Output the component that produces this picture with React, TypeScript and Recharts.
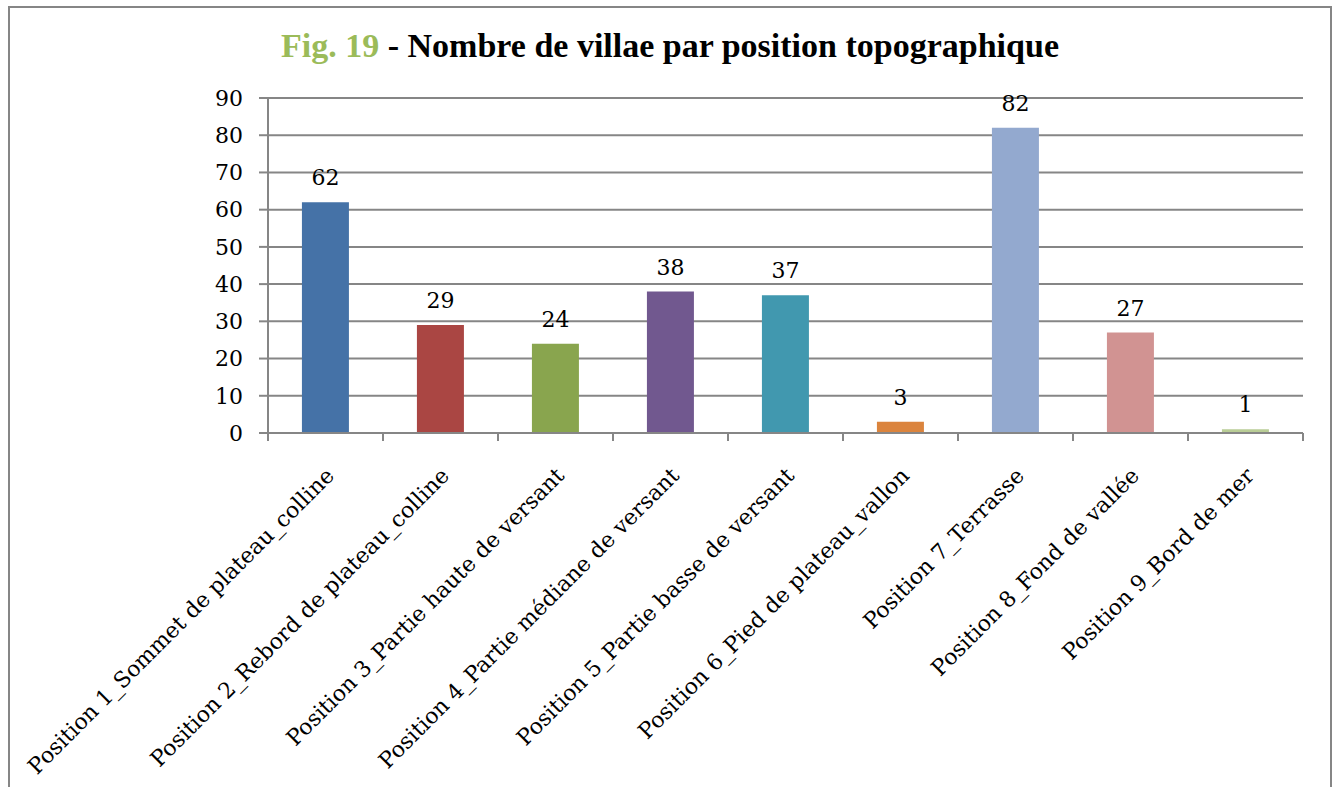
import { BarChart, Bar, XAxis, YAxis, CartesianGrid, Cell, LabelList } from 'recharts'

const positions = [
  'Position 1_Sommet de plateau_colline',
  'Position 2_Rebord de plateau_colline',
  'Position 3_Partie haute de versant',
  'Position 4_Partie médiane de versant',
  'Position 5_Partie basse de versant',
  'Position 6_Pied de plateau_vallon',
  'Position 7_Terrasse',
  'Position 8_Fond de vallée',
  'Position 9_Bord de mer',
]
const villaeCounts = [62, 29, 24, 38, 37, 3, 82, 27, 1]
const barColors = ['#4572A7', '#AA4643', '#89A54E', '#71588F', '#4198AF', '#DB843D', '#93A9CF', '#D19392', '#B9CD96']
const yTicks = [0, 10, 20, 30, 40, 50, 60, 70, 80, 90]

const data = positions.map((name, i) => ({ name, count: villaeCounts[i] }))

const FONT = "'DejaVu Serif', 'Liberation Serif', serif"
const TITLE_FONT = "'Liberation Serif', serif"
const GRID = '#868686'

function CategoryTick(props: any) {
  const { x, y, payload, index } = props
  const half = payload.offset ?? 0
  const last = index === positions.length - 1
  const tx = x + 10
  const ty = y + 36
  return (
    <g>
      <line x1={x - half} y1={y - 8} x2={x - half} y2={y} stroke={GRID} strokeWidth={2} />
      {last && <line x1={x + half} y1={y - 8} x2={x + half} y2={y} stroke={GRID} strokeWidth={2} />}
      <text
        x={tx}
        y={ty}
        textAnchor="end"
        transform={`rotate(-45, ${tx}, ${ty})`}
        fontFamily={FONT}
        fontSize={22}
        fill="#000"
      >
        {payload.value}
      </text>
    </g>
  )
}

export default function App() {
  return (
    <div style={{ position: 'fixed', left: 0, top: 0, width: 1338, height: 787, overflow: 'hidden', background: '#fff' }}>
      <div style={{
        position: 'absolute', left: 8, top: 6, width: 1320, height: 800,
        border: `2px solid ${GRID}`,
      }} />
      <svg width={1338} height={80} style={{ position: 'absolute', left: 0, top: 0 }}>
        <text x={670} y={57} textAnchor="middle" fontFamily={TITLE_FONT} fontWeight={700} fontSize={34} fill="#000">
          <tspan fill="#9BBB59">Fig. 19</tspan> - Nombre de villae par position topographique
        </text>
      </svg>
      <div style={{ position: 'absolute', left: 8, top: 6 }}>
        <BarChart
          width={1324}
          height={781}
          data={data}
          margin={{ top: 92, right: 29, bottom: 0, left: 0 }}
          barCategoryGap="29.5%"
        >
          <CartesianGrid vertical={false} stroke={GRID} strokeWidth={2} />
          <XAxis
            dataKey="name"
            interval={0}
            height={354}
            axisLine={{ stroke: GRID, strokeWidth: 2 }}
            tickLine={false}
            tick={<CategoryTick />}
          />
          <YAxis
            width={260}
            domain={[0, 90]}
            ticks={yTicks}
            interval={0}
            axisLine={{ stroke: GRID, strokeWidth: 2 }}
            tickLine={{ stroke: GRID, strokeWidth: 2 }}
            tickSize={9}
            tickMargin={16}
            tick={{ fontFamily: FONT, fontSize: 22, fill: '#000' }}
          />
          <Bar dataKey="count" isAnimationActive={false}>
            {data.map((d, i) => (
              <Cell key={d.name} fill={barColors[i]} />
            ))}
            <LabelList dataKey="count" position="top" offset={17} fontFamily={FONT} fontSize={22} fill="#000" />
          </Bar>
        </BarChart>
      </div>
    </div>
  )
}
